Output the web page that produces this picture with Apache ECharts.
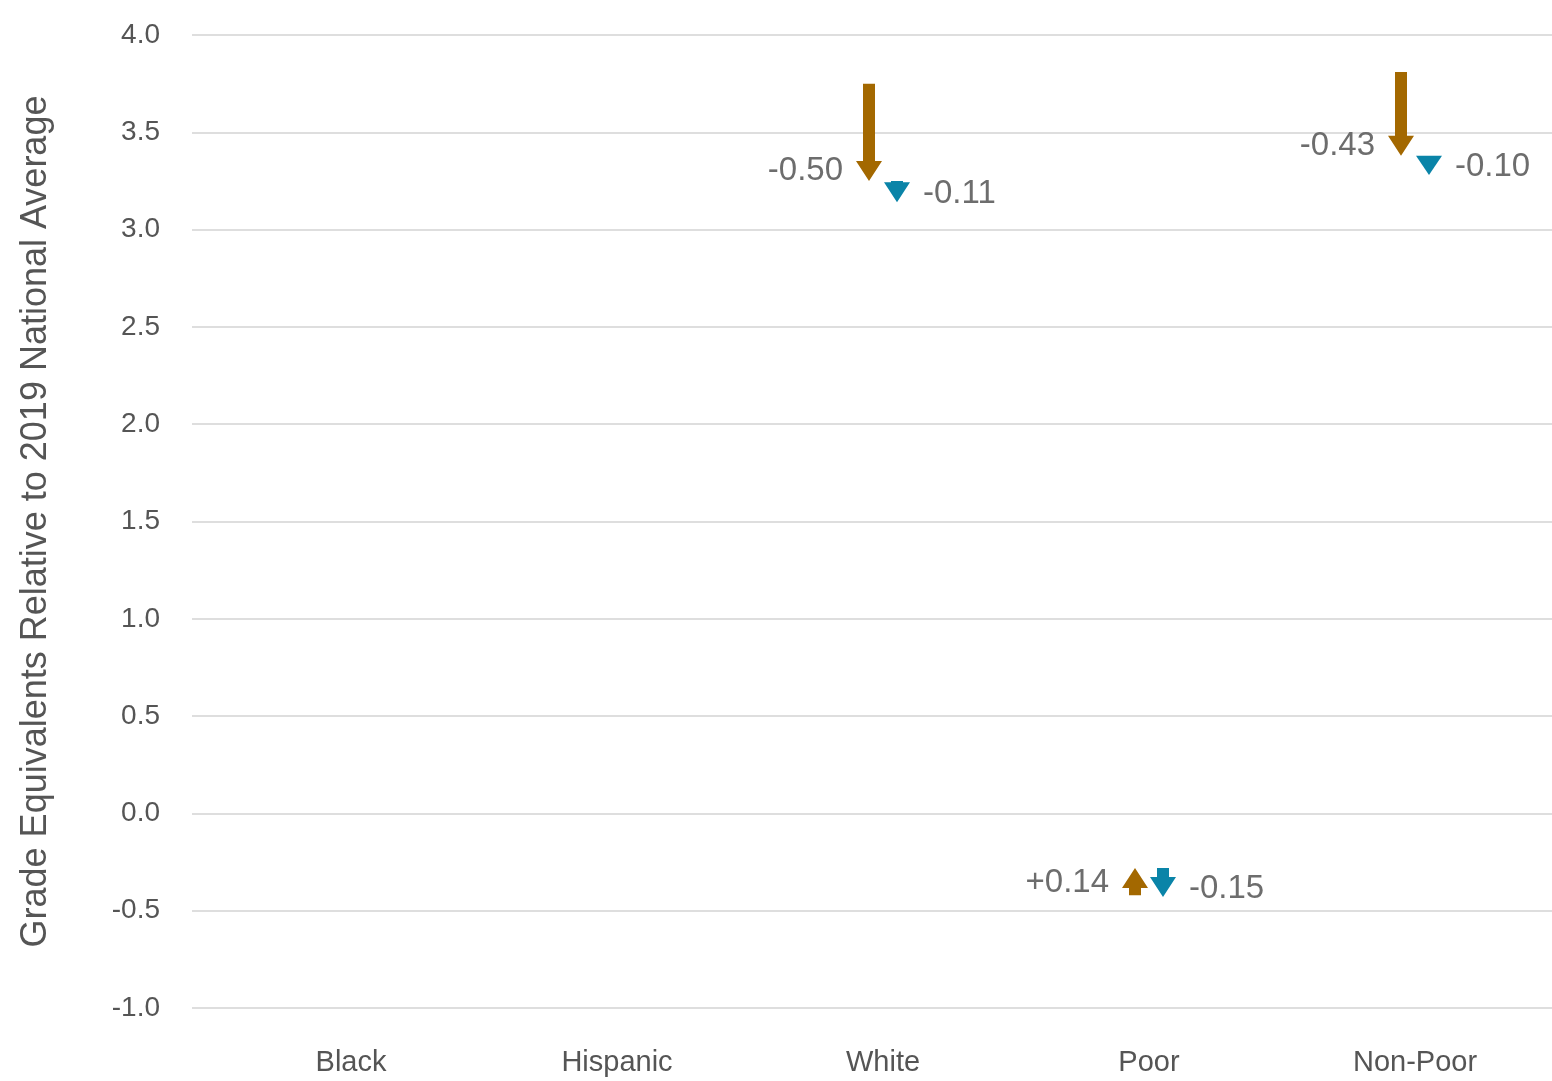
<!DOCTYPE html>
<html><head><meta charset="utf-8">
<script src="https://cdn.jsdelivr.net/npm/echarts@6/dist/echarts.min.js"></script>
<style>html,body{margin:0;padding:0}#chart{width:1552px;height:1081px}</style>
</head><body><div id="chart"></div>
<script>
var categories = ["Black", "Hispanic", "White", "Poor", "Non-Poor"];
// first change (brown): start value and change
var firstStart = [null, null, 3.75, -0.42, 3.81];
var firstChange = [null, null, -0.50, 0.14, -0.43];
// second change (teal): starts where first ends
var secondChange = [null, null, -0.11, -0.15, -0.10];
var labelsFirst = ["", "", "-0.50", "+0.14", "-0.43"];
var labelsSecond = ["", "", "-0.11", "-0.15", "-0.10"];

var brown = "#a36800", teal = "#0a84a8";
var firstData = [], secondData = [];
categories.forEach(function (c, i) {
  if (firstStart[i] == null) return;
  var mid = firstStart[i] + firstChange[i];
  firstData.push([i, firstStart[i], mid]);
  secondData.push([i, mid, mid + secondChange[i]]);
});

function arrowRender(color, dx, side, labels) {
  return function (params, api) {
    var c0 = api.coord([api.value(0), api.value(1)]);
    var c1 = api.coord([api.value(0), api.value(2)]);
    var x = c0[0] + dx, y0 = c0[1], y1 = c1[1];
    var dir = y1 > y0 ? 1 : -1;
    var len = Math.abs(y1 - y0);
    var hl = Math.min(20, len), hw = 13, sw = 6;
    var yb = y1 - dir * hl;
    var pts = [[x - hw, yb], [x, y1], [x + hw, yb]];
    if (len > hl + 1) {
      pts = [[x - sw, y0], [x + sw, y0], [x + sw, yb], [x + hw, yb], [x, y1], [x - hw, yb], [x - sw, yb]];
    }
    var ly = side < 0 ? (dir > 0 ? y1 - 10 : y0 - 12) : y1 - 8;
    return {
      type: "group",
      children: [
        { type: "polygon", shape: { points: pts }, style: { fill: color } },
        { type: "text", x: x + side * 26, y: ly,
          style: { text: labels[api.value(0)], fill: "#6d6d6d", font: "33px 'Liberation Sans', sans-serif",
                   align: side < 0 ? "right" : "left", verticalAlign: "middle" } }
      ]
    };
  };
}

var font = "Liberation Sans";
var option = {
  animation: false,
  grid: [
    { left: 192, right: 0, top: 35, bottom: 73 },
    { left: 218, right: 4, top: 35, bottom: 73 }
  ],
  xAxis: [
    { gridIndex: 0, type: "value", show: false, splitLine: { show: false } },
    { gridIndex: 1, type: "category", data: categories,
      axisLine: { show: false }, axisTick: { show: false },
      axisLabel: { color: "#555", fontSize: 29, fontFamily: font, margin: 40 } }
  ],
  yAxis: [
    { gridIndex: 0, type: "value", min: -1, max: 4, interval: 0.5,
      name: "Grade Equivalents Relative to 2019 National Average",
      nameLocation: "middle", nameGap: 138,
      nameTextStyle: { color: "#555", fontSize: 36, fontFamily: font },
      axisLine: { show: false }, axisTick: { show: false },
      axisLabel: { color: "#555", fontSize: 28, fontFamily: font, margin: 32,
                   formatter: function (v) { return v.toFixed(1); } },
      splitLine: { lineStyle: { color: "#dedede", width: 2 } } },
    { gridIndex: 1, type: "value", min: -1, max: 4, show: false, splitLine: { show: false } }
  ],
  series: [
    { type: "custom", xAxisIndex: 1, yAxisIndex: 1, data: firstData,
      renderItem: arrowRender(brown, -14, -1, labelsFirst), encode: { x: 0, y: [1, 2] } },
    { type: "custom", xAxisIndex: 1, yAxisIndex: 1, data: secondData,
      renderItem: arrowRender(teal, 14, 1, labelsSecond), encode: { x: 0, y: [1, 2] } }
  ]
};
var myChart = echarts.init(document.getElementById("chart"));
myChart.setOption(option);
</script></body></html>
